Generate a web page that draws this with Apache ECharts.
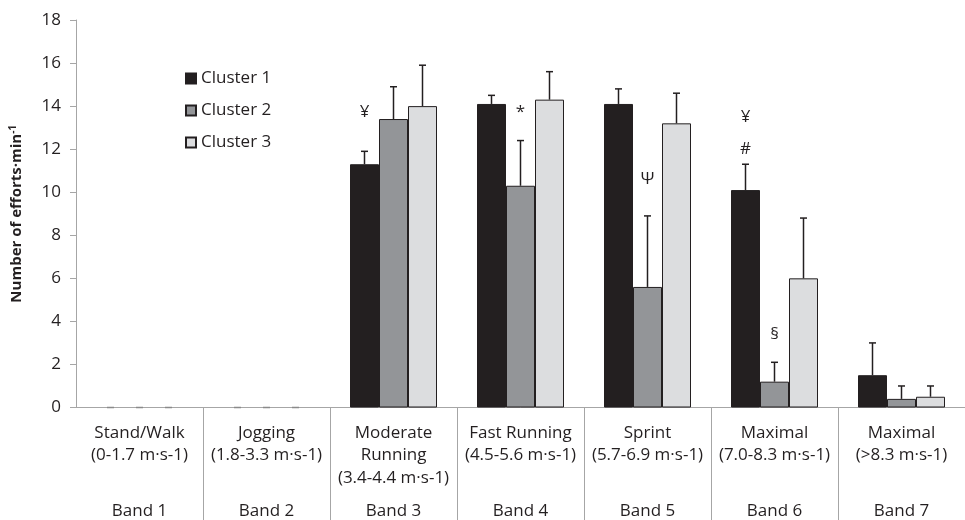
<!DOCTYPE html>
<html>
<head>
<meta charset="utf-8">
<script src="https://cdn.jsdelivr.net/npm/echarts@6/dist/echarts.min.js"></script>
<style>html,body{margin:0;padding:0;background:#fff}#c{width:965px;height:520px}</style>
</head>
<body>
<div id="c"></div>
<script>
const categories = [
  'Stand/Walk\n(0-1.7 m·s-1)',
  'Jogging\n(1.8-3.3 m·s-1)',
  'Moderate\nRunning\n(3.4-4.4 m·s-1)',
  'Fast Running\n(4.5-5.6 m·s-1)',
  'Sprint\n(5.7-6.9 m·s-1)',
  'Maximal\n(7.0-8.3 m·s-1)',
  'Maximal\n(>8.3 m·s-1)'
];
const bandLabels = ['Band 1', 'Band 2', 'Band 3', 'Band 4', 'Band 5', 'Band 6', 'Band 7'];
const seriesNames = ['Cluster 1', 'Cluster 2', 'Cluster 3'];
const cluster1 = [0, 0, 11.3, 14.1, 14.1, 10.1, 1.5];
const cluster1SD = [0, 0, 0.6, 0.4, 0.7, 1.2, 1.5];
const cluster2 = [0, 0, 13.4, 10.3, 5.6, 1.2, 0.4];
const cluster2SD = [0, 0, 1.5, 2.1, 3.3, 0.9, 0.6];
const cluster3 = [0, 0, 14.0, 14.3, 13.2, 6.0, 0.5];
const cluster3SD = [0, 0, 1.9, 1.3, 1.4, 2.8, 0.5];
const yTicks = [0, 2, 4, 6, 8, 10, 12, 14, 16, 18];
const annotationBand = [2, 3, 4, 5, 5, 5];
const annotationCluster = [0, 1, 1, 0, 0, 1];
const annotationY = [13.7, 13.7, 10.6, 13.5, 12.0, 3.4];
const annotationText = ['¥', '*', 'Ψ', '¥', '#', '§'];

const FONT = 'Open Sans';
const FS = 17;
const BAR_W = 29;
const colors = ['#231f20', '#939598', '#dcdddf'];
const means = [cluster1, cluster2, cluster3];
const sds = [cluster1SD, cluster2SD, cluster3SD];

const chart = echarts.init(document.getElementById('c'), null, {renderer: 'canvas'});

const barSeries = means.map((m, k) => ({
  name: seriesNames[k],
  type: 'bar',
  data: m.map(v => v === 0 ? {value: v, itemStyle: {borderWidth: 0}} : v),
  barWidth: BAR_W,
  barGap: '0%',
  itemStyle: {color: colors[k], borderColor: '#231f20', borderWidth: 1},
  emphasis: {disabled: true},
  z: 2
}));

const errSeries = means.map((m, k) => ({
  name: 'err' + k,
  type: 'custom',
  data: m.map((v, i) => [i, v, sds[k][i]]),
  encode: {x: 0, y: 1},
  z: 3,
  silent: true,
  renderItem: function (params, api) {
    const i = api.value(0), mean = api.value(1), sd = api.value(2);
    const base = api.coord([i, mean]);
    const top = api.coord([i, mean + sd]);
    const x = base[0] + (k - 1) * BAR_W;
    const st = {stroke: sd > 0 ? '#231f20' : '#8a8a8a', lineWidth: 1.5};
    return {
      type: 'group',
      children: [
        {type: 'line', shape: {x1: x, y1: base[1], x2: x, y2: top[1]}, style: st},
        {type: 'line', shape: {x1: x - 3.5, y1: top[1], x2: x + 3.5, y2: top[1]}, style: st}
      ]
    };
  }
}));

const annotationSeries = {
  name: 'annotations',
  type: 'custom',
  data: annotationBand.map((b, j) => [b, annotationY[j], annotationCluster[j], j]),
  encode: {x: 0, y: 1},
  z: 4,
  silent: true,
  renderItem: function (params, api) {
    const p = api.coord([api.value(0), api.value(1)]);
    const k = api.value(2);
    const j = api.value(3);
    return {
      type: 'text',
      x: p[0] + (k - 1) * BAR_W,
      y: p[1],
      style: {
        text: annotationText[j],
        fill: '#231f20',
        font: FS + 'px "' + FONT + '"',
        align: 'center',
        verticalAlign: 'middle'
      }
    };
  }
};

chart.setOption({
  animation: false,
  backgroundColor: '#fff',
  textStyle: {fontFamily: FONT},
  grid: {left: 68, top: 20, width: 910, bottom: 112.5, containLabel: false},
  legend: {
    data: seriesNames,
    orient: 'vertical',
    left: 180,
    top: 65,
    itemWidth: 10,
    itemHeight: 10,
    itemGap: 15,
    icon: 'rect',
    textStyle: {fontFamily: FONT, fontSize: FS, color: '#231f20'},
    selectedMode: false
  },
  xAxis: [
    {
      type: 'category',
      data: categories,
      position: 'bottom',
      axisLine: {lineStyle: {color: '#a6a6a6', width: 1}},
      axisTick: {
        show: true,
        length: 115,
        interval: function (i) { return i !== 0; },
        lineStyle: {color: '#a6a6a6', width: 1}
      },
      axisLabel: {
        interval: 0,
        margin: 14,
        fontFamily: FONT,
        fontSize: FS,
        color: '#231f20',
        lineHeight: 22.5,
        align: 'center'
      },
      splitLine: {show: false}
    },
    {
      type: 'category',
      data: bandLabels,
      position: 'bottom',
      axisLine: {show: false},
      axisTick: {show: false},
      axisLabel: {
        interval: 0,
        margin: 95,
        fontFamily: FONT,
        fontSize: FS,
        color: '#231f20'
      },
      splitLine: {show: false}
    }
  ],
  yAxis: {
    type: 'value',
    min: yTicks[0],
    max: yTicks[yTicks.length - 1],
    interval: yTicks[1] - yTicks[0],
    name: 'Number of efforts·min{sup|-1}',
    nameLocation: 'middle',
    nameGap: 50,
    nameRotate: 90,
    nameTextStyle: {
      fontFamily: FONT,
      fontSize: 15,
      fontWeight: 'bold',
      color: '#231f20',
      rich: {
        sup: {fontFamily: FONT, fontSize: 10, fontWeight: 'bold', color: '#231f20', verticalAlign: 'top', padding: [0, 0, 8, 0]}
      }
    },
    axisLine: {show: true, lineStyle: {color: '#a6a6a6', width: 1}},
    axisTick: {show: true, length: 6, lineStyle: {color: '#a6a6a6'}},
    axisLabel: {margin: 15, fontFamily: FONT, fontSize: FS, color: '#231f20'},
    splitLine: {show: false}
  },
  series: barSeries.concat(errSeries, [annotationSeries])
});
</script>
</body>
</html>
